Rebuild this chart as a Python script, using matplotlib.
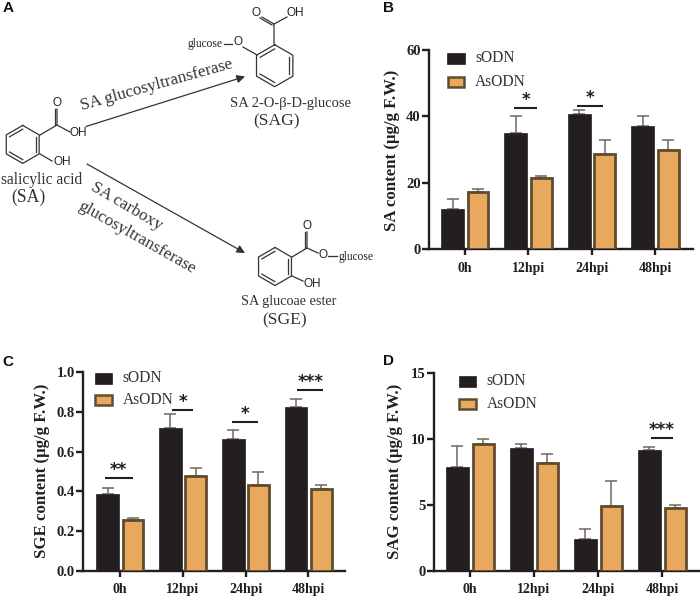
import matplotlib
matplotlib.use('Agg')
import matplotlib.pyplot as plt
import numpy as np
from matplotlib.patches import Rectangle

plt.rcParams['font.family'] = ['Liberation Serif', 'DejaVu Serif']

W, H = 700, 597
BLACK = '#231f20'
ORANGE = '#e8a95f'
EDGE = '#5f4c2d'
ERR = '#6f675c'
TXT = '#333333'

times = ['0h', '12hpi', '24hpi', '48hpi']

sa_sodn = [12, 35, 40.7, 37.2]
sa_sodn_top = [15, 40.2, 42, 40]
sa_asodn = [17.3, 21.5, 28.7, 29.7]
sa_asodn_top = [18, 22, 33, 33]

sge_sodn = [0.385, 0.72, 0.665, 0.825]
sge_sodn_top = [0.418, 0.79, 0.707, 0.865]
sge_asodn = [0.255, 0.475, 0.43, 0.41]
sge_asodn_top = [0.265, 0.517, 0.50, 0.43]

sag_sodn = [7.9, 9.3, 2.4, 9.2]
sag_sodn_top = [9.5, 9.6, 3.2, 9.4]
sag_asodn = [9.6, 8.2, 4.9, 4.8]
sag_asodn_top = [10, 8.85, 6.8, 5.0]

# significance: x0, x1, y of the line, stars
sa_sig = [(0.77, 1.14, 42.6, '*'), (1.77, 2.18, 43.1, '*')]
sge_sig = [(-0.24, 0.2, 0.466, '**'), (0.825, 1.17, 0.81, '*'),
           (1.78, 2.2, 0.751, '*'), (2.82, 3.24, 0.911, '***')]
sag_sig = [(2.83, 3.17, 10.1, '***')]

fig = plt.figure(figsize=(7, 5.97), dpi=100)

# whole figure in pixels, for the scheme and the loose labels
bg = fig.add_axes([0, 0, 1, 1])
bg.set_xlim(0, W)
bg.set_ylim(H, 0)
bg.axis('off')


def panel(left, right, top, bottom, first, step, ymax, yticks, ylabels,
          s, s_top, a, a_top, sig, star_off, xpad):
    ax = fig.add_axes([left / W, 1 - bottom / H, (right - left) / W, (bottom - top) / H])
    ax.set_xlim((left - first) / step, (right - first) / step)
    ax.set_ylim(0, ymax)
    x = np.arange(4)
    ax.bar(x - 0.197, s, 0.36, color=BLACK, edgecolor=BLACK, linewidth=0.5, zorder=3)
    ax.bar(x + 0.205, a, 0.33, color=ORANGE, edgecolor=EDGE, linewidth=2, zorder=3)
    for xx, v, t in zip(x - 0.197, s, s_top):
        ax.errorbar(xx, v, yerr=[[0], [t - v]], color=ERR, lw=1.1, capsize=4, capthick=1.1, zorder=2)
    for xx, v, t in zip(x + 0.205, a, a_top):
        ax.errorbar(xx, v, yerr=[[0], [t - v]], color=ERR, lw=1.1, capsize=4, capthick=1.1, zorder=2)
    for x0, x1, y, st in sig:
        ax.plot([x0, x1], [y, y], color=BLACK, lw=1.5, zorder=4, solid_capstyle='butt')
        ax.text((x0 + x1) / 2, y + star_off, st, ha='center', va='center', fontsize=12,
                fontweight='bold', color=BLACK, family='DejaVu Sans')
    for sp in ['top', 'right']:
        ax.spines[sp].set_visible(False)
    for sp in ['left', 'bottom']:
        ax.spines[sp].set_linewidth(1.7)
        ax.spines[sp].set_color(BLACK)
    ax.set_xticks(x)
    ax.set_xticklabels(times, fontsize=10, fontweight='bold', color=BLACK)
    ax.set_yticks(yticks)
    ax.set_yticklabels(ylabels, fontsize=10.5, fontweight='bold', color=BLACK)
    ax.tick_params(axis='x', length=4.5, width=1.7, color=BLACK, pad=xpad)
    ax.tick_params(axis='y', length=5, width=1.7, color=BLACK, pad=1)
    ax.patch.set_alpha(0)
    return ax


panel(429, 693, 50, 249, 465, 63.4, 60, [0, 20, 40, 60], ['0', '20', '40', '60'],
      sa_sodn, sa_sodn_top, sa_asodn, sa_asodn_top, sa_sig, 2.4, 5)
panel(83, 345, 372, 571, 120, 62.8, 1.0, [0, 0.2, 0.4, 0.6, 0.8, 1.0],
      ['0.0', '0.2', '0.4', '0.6', '0.8', '1.0'],
      sge_sodn, sge_sodn_top, sge_asodn, sge_asodn_top, sge_sig, 0.04, 4)
panel(434, 700, 373, 571, 470, 64, 15, [0, 5, 10, 15], ['0', '5', '10', '15'],
      sag_sodn, sag_sodn_top, sag_asodn, sag_asodn_top, sag_sig, 0.6, 4)


def legend(x, y1, y2):
    bg.add_patch(Rectangle((x, y1 - 5.5), 17.5, 11, fc=BLACK, ec=BLACK, lw=0.5))
    bg.add_patch(Rectangle((x + 0.5, y2 - 5), 16.5, 10, fc=ORANGE, ec=EDGE, lw=1.8))
    bg.text(x + 28, y1, 'sODN', fontsize=11.2, va='center', color=TXT)
    bg.text(x + 28, y2, 'AsODN', fontsize=11.2, va='center', color=TXT)


legend(447, 58, 81.5)
legend(94.5, 378, 400)
legend(458.5, 381, 404)

bg.text(392, 150, 'SA content (μg/g F.W.)', rotation=90, fontsize=12.1, fontweight='bold',
        ha='center', va='center', color=BLACK)
bg.text(42, 471, 'SGE content (μg/g F.W.)', rotation=90, fontsize=12.1, fontweight='bold',
        ha='center', va='center', color=BLACK)
bg.text(395, 471, 'SAG content (μg/g F.W.)', rotation=90, fontsize=12.1, fontweight='bold',
        ha='center', va='center', color=BLACK)

for lab, x, y in [('A', 8, 8), ('B', 388, 8), ('C', 8, 362), ('D', 388, 361)]:
    bg.text(x, y, lab, fontsize=11, fontweight='bold', family='Liberation Sans',
            ha='center', va='center', color='#111111')


def ring(cx, cy, r, inner):
    # hexagon with a point on top, double bonds on the sides listed in inner
    ang = np.radians(90 + 60 * np.arange(7))
    px = cx + r * np.cos(ang)
    py = cy - r * np.sin(ang)
    bg.plot(px, py, color='#333333', lw=0.9)
    for i in inner:
        ax_, ay_ = cx + 0.8 * (px[i] - cx), cy + 0.8 * (py[i] - cy)
        bx_, by_ = cx + 0.8 * (px[i + 1] - cx), cy + 0.8 * (py[i + 1] - cy)
        bg.plot([ax_, bx_], [ay_, by_], color='#333333', lw=0.9)


def bond(*pts):
    xs, ys = zip(*pts)
    bg.plot(xs, ys, color='#333333', lw=0.9)


def atom(x, y, s, size=8.5, **kw):
    bg.text(x, y, s, fontsize=size, ha='center', va='center', color='#222222',
            family='Liberation Sans', **kw)


def arrow(x0, y0, x1, y1):
    bg.annotate('', xy=(x1, y1), xytext=(x0, y0),
                arrowprops=dict(arrowstyle='-|>', color='#333333', lw=0.9, mutation_scale=12,
                                shrinkA=0, shrinkB=0))


# salicylic acid
ring(22.7, 144.4, 19, [0, 2, 4])
bond((40, 135), (57, 125), (57, 109))
bond((55, 125), (55, 109))
bond((57, 125), (70, 132))
bond((40, 154), (52, 161))
atom(57, 103, 'O')
atom(78, 133, 'OH')
atom(62, 162, 'OH')

# SAG
ring(274.7, 65.7, 21, [0, 2, 4])
bond((274, 44), (274, 24), (262, 17))
bond((272, 25), (260, 18))
bond((274, 24), (287, 17))
bond((257, 55), (243, 47))
atom(256, 13, 'O')
atom(295, 13, 'OH')
atom(238, 42, 'O')
bond((224, 44), (232, 44))
bg.text(205, 44.5, 'glucose', fontsize=8.3, ha='center', va='center', color='#222222')

# SGE
ring(275, 266.5, 19, [0, 2, 4])
bond((292, 257), (307, 248), (307, 232))
bond((305, 248), (305, 232))
bond((307, 248), (318, 253))
bond((292, 276), (303, 281))
bond((328, 256), (337, 256))
atom(307, 226, 'O')
atom(323, 255, 'O')
atom(312, 284, 'OH')
bg.text(356, 257, 'glucose', fontsize=8.3, ha='center', va='center', color='#222222')

arrow(86, 126.5, 245, 76.5)
arrow(87, 164, 245, 253)

bg.text(157, 85, 'SA glucosyltransferase', rotation=15.6, rotation_mode='anchor', fontsize=12.3,
        ha='center', va='center', color=TXT)
bg.text(127, 206, 'SA carboxy', rotation=-30.5, rotation_mode='anchor', fontsize=12.3,
        ha='center', va='center', color=TXT)
bg.text(137, 238, 'glucosyltransferase', rotation=-29.5, rotation_mode='anchor', fontsize=12.3,
        ha='center', va='center', color=TXT)

bg.text(41.5, 180, 'salicylic acid', fontsize=11.2, ha='center', va='center', color=TXT)
bg.text(28.5, 197, '(SA)', fontsize=12.7, ha='center', va='center', color=TXT)
bg.text(290.5, 103.5, 'SA 2-O-β-D-glucose', fontsize=10.5, ha='center', va='center', color=TXT)
bg.text(277, 121, '(SAG)', fontsize=12.6, ha='center', va='center', color=TXT)
bg.text(288.5, 301.5, 'SA glucoae ester', fontsize=10.3, ha='center', va='center', color=TXT)
bg.text(285, 320, '(SGE)', fontsize=12.6, ha='center', va='center', color=TXT)

fig.savefig('out.png', dpi=100)
